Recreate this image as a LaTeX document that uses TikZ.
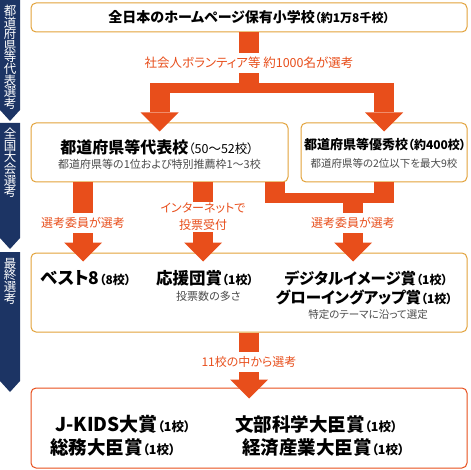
\documentclass[tikz,border=0pt]{standalone}
\usepackage{fontspec}
\setmainfont{Noto Sans CJK JP}[RawFeature=+palt]
\usetikzlibrary{arrows.meta,positioning}
\definecolor{navy}{HTML}{1C3464}
\definecolor{flow}{HTML}{E84E1B}
\definecolor{gold}{HTML}{E2A23A}
\definecolor{note}{HTML}{4A4A4A}
\newcommand{\fsz}[1]{\fontsize{#1}{#1}\selectfont}

\begin{document}
\begin{tikzpicture}[x=1pt, y=-1pt,
  box/.style={draw=gold, line width=1pt, rounded corners=5pt, fill=white, inner sep=0pt},
  stem/.style={draw=flow, line width=20pt},
  bar/.style={draw=flow, line width=10pt},
  fat/.style={draw=flow, line width=20pt, -{Triangle[width=38pt, length=19pt, line width=0pt]}},
  lab/.style={fill=white, text=flow, font=\fsz{12}, inner xsep=3pt, inner ysep=4.5pt},
  side/.style={anchor=north, text=white, align=center, inner sep=0pt, font=\fontsize{12.5}{11.6}\selectfont},
  ttl/.style={inner sep=0pt, text=black, font=\bfseries},
  sub/.style={inner sep=0pt, text=note}]

\useasboundingbox (0,0) rectangle (470,470);

\fill[navy] (0,0) -- (20,0) -- (20,110) -- (10,121) -- (0,110) -- cycle;
\fill[navy] (0,123) -- (20,123) -- (20,238) -- (10,249) -- (0,238) -- cycle;
\fill[navy] (0,252) -- (20,252) -- (20,381) -- (10,392) -- (0,381) -- cycle;
\node[side] (s1) at (10,5) {都\\道\\府\\県\\等\\代\\表\\選\\考};
\node[side] (s2) at (10,128) {全\\国\\大\\会\\選\\考};
\node[side] (s3) at (10,258) {最\\終\\選\\考};

\node[box, minimum width=436pt, minimum height=29pt] (top) at (249,17.5) {};
\node[ttl] (toptxt) at (top.center) {\fsz{14}全日本のホームページ保有小学校\fsz{12}（約1万8千校）};

\node[box, minimum width=257pt, minimum height=59pt] (rep) at (159.5,152.5) {};
\node[ttl] (reptxt) at (157,147) {\fsz{16}都道府県等代表校\fsz{12.5}\mdseries（50～52校）};
\node[sub] (repsub) at (159.5,164) {\fsz{11}都道府県等の1位および特別推薦枠1～3校};

\node[box, minimum width=166pt, minimum height=59pt] (exc) at (384,152.5) {};
\node[ttl] (exctxt) at (385,145) {\fsz{13}都道府県等優秀校\fsz{12}（約400校）};
\node[sub] (excsub) at (384,163) {\fsz{10.5}都道府県等の2位以下を最大9校};

\node[box, minimum width=436pt, minimum height=79pt] (fin) at (249,292.5) {};
\node[ttl, anchor=west] (best) at (40,278) {\fsz{17.5}ベスト8\fsz{12}（8校）};
\node[ttl, anchor=west] (cheer) at (156,278) {\fsz{16.5}応援団賞\fsz{12}（1校）};
\node[sub, anchor=west] (cheersub) at (176,296.5) {\fsz{11}投票数の多さ};
\node[ttl] (digi) at (366,278) {\fsz{15.5}デジタルイメージ賞\fsz{12}（1校）};
\node[ttl] (grow) at (364,297.5) {\fsz{15.5}グローイングアップ賞\fsz{12}（1校）};
\node[sub] (theme) at (368,314.5) {\fsz{10.5}特定のテーマに沿って選定};

\node[box, draw=flow, minimum width=436pt, minimum height=80pt] (grand) at (249,428) {};
\node[ttl, anchor=west] (jkids) at (55,424) {\fsz{19}J-KIDS大賞\fsz{12.5}（1校）};
\node[ttl, anchor=west] (mext) at (235,424) {\fsz{18.5}文部科学大臣賞\fsz{12.5}（1校）};
\node[ttl, anchor=west] (mic) at (50,448) {\fsz{18.5}総務大臣賞\fsz{12.5}（1校）};
\node[ttl, anchor=west] (meti) at (242,448) {\fsz{18.5}経済産業大臣賞\fsz{12.5}（1校）};

\coordinate (j1) at (249,88);
\coordinate (j2) at (353,198);
\coordinate (c1) at (83,0);
\coordinate (c2) at (203,0);
\coordinate (c3) at (275,0);

\draw[stem] (top.south) -- (j1);
\draw[bar] (j1 -| rep.north) -- (j1 -| exc.north);
\draw[fat, shorten <=-5pt, shorten >=-9pt] (j1 -| rep.north) -- (rep.north);
\draw[fat, shorten <=-5pt, shorten >=-9pt] (j1 -| exc.north) -- (exc.north);

\draw[fat, shorten >=-9pt] (rep.south -| c1) -- (fin.north -| c1);
\draw[fat, shorten >=-9pt] (rep.south -| c2) -- (fin.north -| c2);
\draw[stem, shorten >=-5pt] (rep.south -| c3) -- (j2 -| c3);
\draw[stem, shorten >=-5pt] (exc.south) -- (j2 -| exc.south);
\draw[bar] (j2 -| c3) -- (j2 -| exc.south);
\draw[fat, shorten >=-9pt] (j2) -- (fin.north -| j2);

\draw[fat, shorten >=-11pt] (fin.south) -- (grand.north);

\node[lab, font=\fsz{12.5}] (vol) at (249,63) {社会人ボランティア等 約1000名が選考};
\node[lab] (jury1) at (83,223) {選考委員が選考};
\node[lab, align=center, font=\fontsize{12}{17}\selectfont, inner ysep=1.5pt] (net) at (203,217) {インターネットで\\投票受付};
\node[lab] (jury2) at (353,223) {選考委員が選考};
\node[lab] (pick) at (249,362) {11校の中から選考};
\end{tikzpicture}
\end{document}
